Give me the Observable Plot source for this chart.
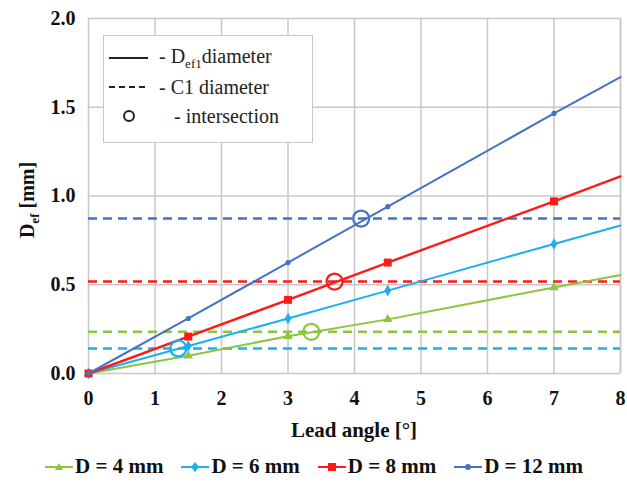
<!DOCTYPE html>
<html><head><meta charset="utf-8">
<script src="https://cdn.jsdelivr.net/npm/d3@7"></script>
<script src="https://cdn.jsdelivr.net/npm/@observablehq/plot@0.6"></script>
<style>
body{margin:0;background:#fff;font-family:'Liberation Serif','Times New Roman','DejaVu Serif',serif;}
#wrap{position:relative;width:627px;height:492px;}
#wrap > svg{position:absolute;left:0;top:0;}
#legin{position:absolute;left:103px;top:35px;width:208px;height:106px;border:1.5px solid #c8c8c8;background:#fff;font-size:20px;color:#222;}
#legin .row{position:absolute;left:0;height:24px;display:flex;align-items:center;}
#legbot{position:absolute;left:0;top:454px;width:627px;display:flex;justify-content:center;gap:17px;font-weight:bold;font-size:21px;color:#111;}
#legbot .it{display:flex;align-items:center;gap:1px;}
</style></head>
<body><div id="wrap"></div>
<script>
const angles = [0, 1.5, 3, 4.5, 7, 8];
const seriesNames = ["D = 4 mm", "D = 6 mm", "D = 8 mm", "D = 12 mm"];
const colors = ["#8cc63f", "#1aaff0", "#ff1a1a", "#4472c4"];
const symbols = ["triangle", "diamond", "square", "circle"];
const d4  = [0, 0.10, 0.21, 0.305, 0.485, 0.555];
const d6  = [0, 0.155, 0.31, 0.467, 0.73, 0.834];
const d8  = [0, 0.208, 0.415, 0.625, 0.97, 1.11];
const d12 = [0, 0.31, 0.625, 0.94, 1.465, 1.67];
const c1  = [0.235, 0.141, 0.518, 0.873];
const intersectX = [3.35, 1.35, 3.7, 4.1];
const xTicks = [0,1,2,3,4,5,6,7,8];
const yTicks = [0,0.5,1,1.5,2];

const FONT = "'Liberation Serif','Times New Roman','DejaVu Serif',serif";
const all = [d4, d6, d8, d12];
const rows = [];
all.forEach((arr, si) => arr.forEach((v, i) => rows.push({s: seriesNames[si], x: angles[i], y: v, marker: angles[i] < 8})));
const hl = c1.map((v, i) => ({s: seriesNames[i], y: v}));
const inter = c1.map((v, i) => ({s: seriesNames[i], x: intersectX[i], y: v}));
const col = d3.scaleOrdinal(seriesNames, colors);

const marks = [
  Plot.gridX(xTicks, {stroke: "#c8c8c8", strokeOpacity: 1, strokeWidth: 1.5}),
  Plot.gridY(yTicks, {stroke: "#c8c8c8", strokeOpacity: 1, strokeWidth: 1.5}),
  Plot.ruleX([8], {stroke: "#c8c8c8", strokeWidth: 1.5}),
  Plot.axisX({ticks: xTicks, tickSize: 0, tickPadding: 17, fontSize: 20, fontWeight: "bold", label: null, fill: "#111"}),
  Plot.axisY({ticks: yTicks, tickSize: 0, tickPadding: 13, fontSize: 20, fontWeight: "bold", label: null, tickFormat: d3.format(".1f"), fill: "#111"}),
  Plot.ruleY(hl, {y: "y", stroke: d => col(d.s), strokeWidth: 2.6, strokeDasharray: "9,6"}),
];
seriesNames.forEach((name, si) => {
  const data = rows.filter(r => r.s === name);
  marks.push(Plot.line(data, {x: "x", y: "y", stroke: colors[si], strokeWidth: si === 2 ? 2.4 : 2}));
  marks.push(Plot.dot(data.filter(d => d.marker), {x: "x", y: "y", fill: colors[si], symbol: symbols[si], r: si === 2 ? 4.5 : (si === 3 ? 2.6 : 3.5)}));
});
marks.push(Plot.dot(inter, {x: "x", y: "y", stroke: d => col(d.s), strokeWidth: 2.2, fill: "none", r: 8}));

const chart = Plot.plot({
  width: 627, height: 448,
  marginLeft: 88, marginRight: 7, marginTop: 18, marginBottom: 75,
  x: {domain: [0, 8]}, y: {domain: [0, 2]},
  style: {fontFamily: FONT, background: "#fff"},
  marks
});
const svg = d3.select(chart);
svg.append("text").attr("transform", "translate(34,200) rotate(-90)").attr("text-anchor", "middle")
  .attr("font-size", 20).attr("font-weight", "bold").attr("fill", "#111").attr("font-family", FONT)
  .call(t => { t.append("tspan").text("D"); t.append("tspan").attr("font-size", 13).attr("dy", 5).text("ef"); t.append("tspan").attr("dy", -5).text(" [mm]"); });
svg.append("text").attr("x", 354).attr("y", 437).attr("text-anchor", "middle").attr("font-family", FONT)
  .attr("font-size", 21).attr("font-weight", "bold").attr("fill", "#111").text("Lead angle [°]");

const wrap = document.getElementById("wrap");
wrap.appendChild(chart);

const legin = document.createElement("div");
legin.id = "legin";
legin.innerHTML = `
<div class="row" style="top:10px"><svg width="50" height="20"><line x1="5" x2="44" y1="10" y2="10" stroke="#222" stroke-width="2"/></svg><span>&nbsp;- D<sub style="font-size:13px">ef1</sub>diameter</span></div>
<div class="row" style="top:39px"><svg width="50" height="20"><line x1="5" x2="44" y1="10" y2="10" stroke="#222" stroke-width="2" stroke-dasharray="6,4"/></svg><span>&nbsp;- C1 diameter</span></div>
<div class="row" style="top:68px"><svg width="50" height="20"><circle cx="25" cy="10" r="5" fill="none" stroke="#222" stroke-width="2"/></svg><span>&nbsp;&nbsp;&nbsp;&nbsp;- intersection</span></div>`;
wrap.appendChild(legin);

const legbot = document.createElement("div");
legbot.id = "legbot";
const symPath = {
  triangle: '<path d="M15,6 L19,13 L11,13 Z"/>',
  diamond: '<path d="M15,5 L19,10 L15,15 L11,10 Z"/>',
  square: '<rect x="11" y="6" width="8" height="8"/>',
  circle: '<circle cx="15" cy="10" r="3"/>'
};
seriesNames.forEach((n, i) => {
  const it = document.createElement("div");
  it.className = "it";
  it.innerHTML = `<svg width="30" height="20"><line x1="1" x2="29" y1="10" y2="10" stroke="${colors[i]}" stroke-width="2"/><g fill="${colors[i]}">${symPath[symbols[i]]}</g></svg><span>${n}</span>`;
  legbot.appendChild(it);
});
wrap.appendChild(legbot);
</script></body></html>
